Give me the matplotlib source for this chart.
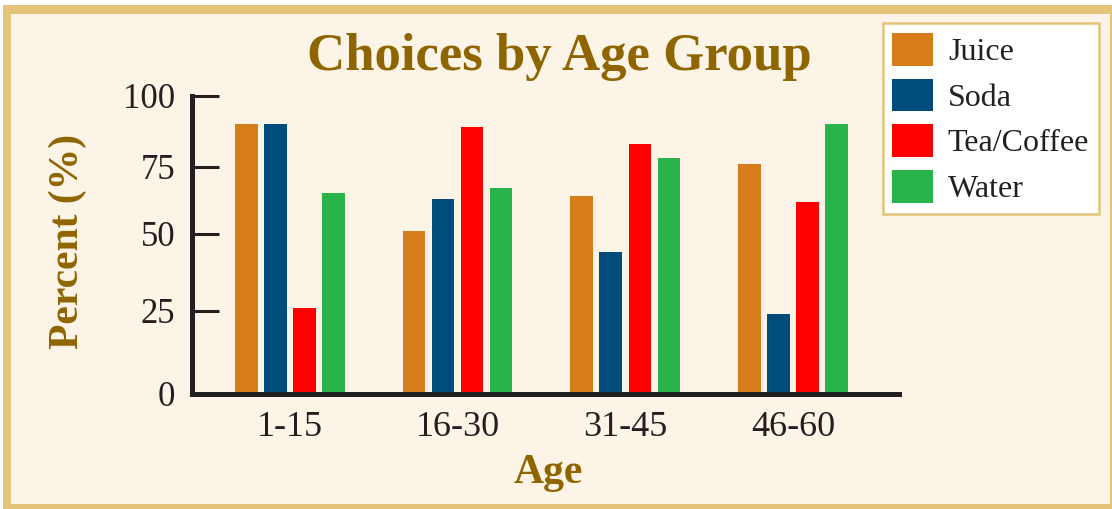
import matplotlib
matplotlib.use("Agg")
import matplotlib.pyplot as plt
from matplotlib.patches import Rectangle
import numpy as np


# data
age_groups = ["1-15", "16-30", "31-45", "46-60"]
drinks = ["Juice", "Soda", "Tea/Coffee", "Water"]
juice = [90, 51, 64, 76]
soda = [90, 63, 44, 24]
tea_coffee = [26, 89, 83, 62]
water = [65, 67, 78, 90]
y_ticks = [0, 25, 50, 75, 100]

colors = ["#d67c1a", "#004d7d", "#ff0000", "#28b34b"]
gold = "#e3c478"
cream = "#fbf4e7"
brown = "#8f6500"
ink = "#231f20"

# the original axis is hand drawn: tick spacing is not even
tick_frac = [0.0, 0.2792, 0.5374, 0.7620, 1.0]
vals_ext = [-100] + y_ticks + [200]
frac_ext = [-100 * tick_frac[1] / 25] + tick_frac + [1.0 + 100 * (1.0 - tick_frac[3]) / 25]


def forward(v):
    return np.interp(v, vals_ext, frac_ext)


def inverse(f):
    return np.interp(f, frac_ext, vals_ext)


plt.rcParams['font.family'] = ['Liberation Serif', 'DejaVu Serif']

W, H = 1112, 509
fig = plt.figure(figsize=(W / 100, H / 100), dpi=100, facecolor="white")

# frame
fig.patches.append(Rectangle((3 / W, 0), 1, (H - 5) / H, transform=fig.transFigure,
                             facecolor=gold, edgecolor="none", zorder=-2))
fig.patches.append(Rectangle((11 / W, 5 / H), (1110 - 11) / W, (504 - 14) / H,
                             transform=fig.transFigure, facecolor=cream,
                             edgecolor="none", zorder=-1))

left, right, bottom, top = 192, 899, 394, 95.7
ax = fig.add_axes([left / W, (H - bottom) / H, (right - left) / W, (bottom - top) / H])
ax.set_facecolor("none")
ax.set_yscale("function", functions=(forward, inverse))

x = np.arange(len(age_groups))
step = 0.173
width = 0.135
series = [juice, soda, tea_coffee, water]
for i, (name, vals) in enumerate(zip(drinks, series)):
    ax.bar(x + (i - 1.5) * step, vals, width, color=colors[i], label=name, zorder=2)

ax.set_xlim(-0.584, 3.632)
ax.set_ylim(0, 100)
ax.set_yticks(y_ticks)
ax.set_yticklabels([str(t) for t in y_ticks])
ax.yaxis.set_minor_locator(matplotlib.ticker.NullLocator())
ax.set_xticks(x)
ax.set_xticklabels(age_groups)

for s in ["top", "right"]:
    ax.spines[s].set_visible(False)
for s in ["left", "bottom"]:
    ax.spines[s].set_linewidth(3.6)
    ax.spines[s].set_color(ink)
    ax.spines[s].set_zorder(3)

ax.tick_params(axis="y", direction="in", length=19.5, width=2.2, color=ink,
               labelsize=25, labelcolor=ink, pad=12)
ax.tick_params(axis="x", length=0, labelsize=26, labelcolor=ink, pad=12)

fig.text(559 / W, (H - 70) / H, "Choices by Age Group", ha="center", va="baseline",
         fontsize=38, fontweight="bold", color=brown)
fig.text(548 / W, (H - 483) / H, "Age", ha="center", va="baseline",
         fontsize=30, fontweight="bold", color=brown)
fig.text(68 / W, (H - 241) / H, "Percent (%)", ha="center", va="center", rotation=90,
         fontsize=30, fontweight="bold", color=brown)

leg = ax.legend(loc="upper left", bbox_to_anchor=(882.7 / W, (H - 23.3) / H),
                bbox_transform=fig.transFigure, borderaxespad=0, fontsize=23,
                frameon=True, fancybox=False, framealpha=1, facecolor="white",
                edgecolor=gold, handlelength=1.27, handleheight=1.2,
                handletextpad=0.47, labelspacing=0.36, borderpad=0.3)
leg.get_frame().set_linewidth(1.8)
for t in leg.get_texts():
    t.set_color(ink)

fig.savefig("out.png", dpi=100, facecolor=fig.get_facecolor())
